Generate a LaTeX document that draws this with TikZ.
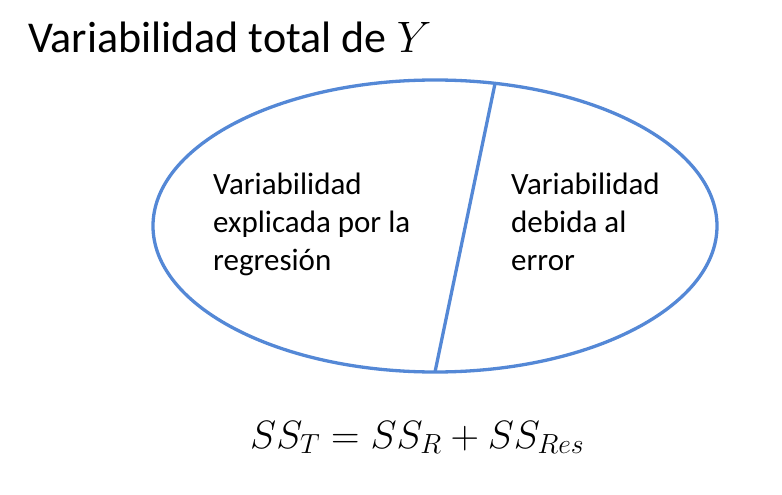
\RequirePackage{fix-cm}
\documentclass[tikz,border=0pt]{standalone}
\usepackage{fontspec}
\setmainfont{Carlito}
\usetikzlibrary{calc}
\definecolor{ovalblue}{RGB}{84,136,214}
\tikzset{
    part text/.style={anchor=base west, align=left, inner sep=0pt,
        font=\fontsize{31}{38}\selectfont},
    oval line/.style={ovalblue, line width=3.3pt},
}

\begin{document}
\begin{tikzpicture}[x=1pt, y=1pt]

    \def\ovalrx{282}
    \def\ovalry{146}

    \useasboundingbox (0,0) rectangle (782,-495);

    \coordinate (C) at (435,-226);
    \draw[oval line] (C) ellipse [x radius=\ovalrx, y radius=\ovalry];
    \coordinate (T) at ($(C)+(77.7:\ovalrx pt and \ovalry pt)$);
    \coordinate (B) at ($(C)+(-90:\ovalrx pt and \ovalry pt)$);
    \draw[oval line] (T) -- (B);

    \node[anchor=base west, inner sep=0pt, font=\fontsize{44}{52}\selectfont]
        (title) at (28,-53) {Variabilidad total de $Y$};

    % base = last line
    \node[part text] (reg) at (213,-270) {Variabilidad\\explicada por la\\regresión};
    \node[part text] (err) at (511,-270) {Variabilidad\\debida al\\error};

    \node[anchor=base west, inner sep=0pt, font=\fontsize{39.5}{46}\selectfont]
        (sum) at (250,-448) {$SS_T = SS_R + SS_{Res}$};

\end{tikzpicture}
\end{document}
